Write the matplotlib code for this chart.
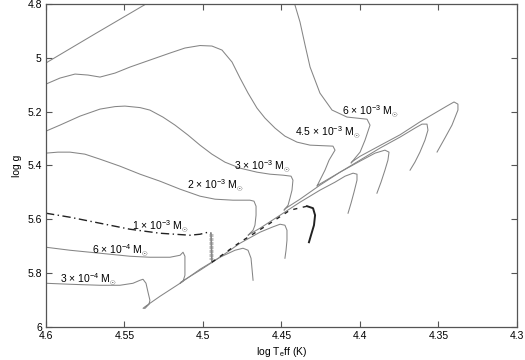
import numpy as np
import matplotlib.pyplot as plt

plt.rcParams['font.family'] = ['Liberation Sans', 'DejaVu Sans']
plt.rcParams['mathtext.fontset'] = 'custom'
plt.rcParams['mathtext.rm'] = 'Liberation Sans'
plt.rcParams['mathtext.it'] = 'Liberation Sans:italic'
plt.rcParams['mathtext.sf'] = 'Liberation Sans'

# evolutionary tracks: log Teff, log g
teff_6e3 = [4.6, 4.5682, 4.5363, 4.50, 4.47, 4.452, 4.444, 4.4414, 4.4382, 4.4350, 4.4318,
            4.4255, 4.4178, 4.4083, 4.3955, 4.3936, 4.3968, 4.3999, 4.4032, 4.4057, 4.4050,
            4.4000, 4.3873, 4.3745, 4.3618, 4.3522, 4.3446, 4.3401, 4.3376, 4.3376, 4.3414,
            4.3459, 4.3509]
logg_6e3 = [5.019, 4.909, 4.800, 4.69, 4.63, 4.64, 4.72, 4.804, 4.867, 4.952, 5.034,
            5.131, 5.194, 5.220, 5.228, 5.250, 5.306, 5.350, 5.373, 5.391, 5.386,
            5.366, 5.326, 5.286, 5.238, 5.205, 5.179, 5.164, 5.172, 5.194, 5.250,
            5.298, 5.350]

teff_45e3 = [4.6, 4.5911, 4.5815, 4.5732, 4.5656, 4.5560, 4.5465, 4.5338, 4.5210, 4.5115,
             4.5019, 4.4943, 4.4879, 4.4815, 4.4764, 4.4713, 4.4656, 4.4605, 4.4541, 4.4478,
             4.4401, 4.4318, 4.4172, 4.4159, 4.4197, 4.4223, 4.4255, 4.4274, 4.4265,
             4.4127, 4.4000, 4.3873, 4.3745, 4.3650, 4.3605, 4.3573, 4.3567, 4.3586,
             4.3618, 4.3650, 4.3681]
logg_45e3 = [5.0975, 5.0752, 5.0603, 5.0640, 5.0715, 5.0566, 5.0343, 5.0083, 4.9822, 4.9636,
             4.9543, 4.9562, 4.9711, 5.0157, 5.0752, 5.1310, 5.1868, 5.2240, 5.2612, 5.2909,
             5.3132, 5.3244, 5.3281, 5.3430, 5.3802, 5.4174, 5.4545, 5.4768, 5.4720,
             5.4248, 5.3802, 5.3355, 5.2946, 5.2612, 5.2463, 5.2463, 5.2686, 5.3058,
             5.3504, 5.3876, 5.4174]

teff_3e3 = [4.6, 4.5911, 4.5783, 4.5656, 4.5560, 4.5497, 4.5401, 4.5338, 4.5255, 4.5178,
            4.5095, 4.5019, 4.4943, 4.4860, 4.4764, 4.4656, 4.4573, 4.4490, 4.4439, 4.4427,
            4.4433, 4.4446, 4.4458, 4.4484, 4.4475, 4.4382, 4.4255, 4.4127, 4.4000, 4.3904,
            4.3841, 4.3815, 4.3822, 4.3841, 4.3866, 4.3892]
logg_3e3 = [5.2723, 5.2500, 5.2165, 5.1905, 5.1812, 5.1793, 5.1849, 5.1942, 5.2202, 5.2500,
            5.2872, 5.3244, 5.3579, 5.3876, 5.4099, 5.4248, 5.4323, 5.4360, 5.4397, 5.4545,
            5.4917, 5.5215, 5.5475, 5.5661, 5.5600, 5.5252, 5.4731, 5.4248, 5.3839, 5.3541,
            5.3430, 5.3504, 5.3802, 5.4174, 5.4620, 5.5029]

teff_2e3 = [4.6, 4.5924, 4.5847, 4.5752, 4.5656, 4.5529, 4.5401, 4.5274, 4.5146, 4.5019,
            4.4923, 4.4809, 4.4701, 4.4675, 4.4662, 4.4662, 4.4669, 4.4681, 4.4713, 4.4700,
            4.4637, 4.4509, 4.4382, 4.4255, 4.4159, 4.4095, 4.4044, 4.4019, 4.4019, 4.4038,
            4.4057, 4.4076]
logg_2e3 = [5.3541, 5.3504, 5.3504, 5.3579, 5.3765, 5.4025, 5.4323, 5.4583, 5.4880, 5.5140,
            5.5252, 5.5289, 5.5289, 5.5326, 5.5512, 5.5847, 5.6219, 5.6405, 5.6591, 5.6540,
            5.6331, 5.5847, 5.5364, 5.4917, 5.4620, 5.4397, 5.4285, 5.4323, 5.4545, 5.4991,
            5.5401, 5.5773]

teff_1e3 = [4.6, 4.5847, 4.5656, 4.5465, 4.5274, 4.5083, 4.5019, 4.4968, 4.4949]
logg_1e3 = [5.5773, 5.5922, 5.6145, 5.6368, 5.6517, 5.6591, 5.6554, 5.6480, 5.6517]
teff_1e3_drop = [4.4949, 4.4946, 4.4943]
logg_1e3_drop = [5.6517, 5.7050, 5.7595]
logg_1e3_hatch = [5.653, 5.658, 5.663, 5.668, 5.673, 5.678, 5.683, 5.688, 5.693, 5.698,
                  5.703, 5.708, 5.713, 5.718, 5.723, 5.728, 5.733, 5.738, 5.743, 5.748]
teff_1e3_dash = [4.4943, 4.4764, 4.4592, 4.4446, 4.4337]
logg_1e3_dash = [5.7595, 5.6851, 5.6219, 5.5661, 5.5512]
teff_1e3_end = [4.4337, 4.4299, 4.4286, 4.4293, 4.4312, 4.4325]
logg_1e3_end = [5.5512, 5.5587, 5.5847, 5.6219, 5.6591, 5.6851]

teff_6e4 = [4.6, 4.5847, 4.5656, 4.5465, 4.5338, 4.5210, 4.5146, 4.5127, 4.5115, 4.5115,
            4.5115, 4.5127, 4.5146, 4.5140, 4.5019, 4.4892, 4.4764, 4.4637, 4.4560, 4.4509,
            4.4478, 4.4465, 4.4465, 4.4471, 4.4478]
logg_6e4 = [5.7037, 5.7149, 5.7260, 5.7372, 5.7409, 5.7409, 5.7335, 5.7223, 5.7372, 5.7707,
            5.8078, 5.8302, 5.8376, 5.8330, 5.7893, 5.7409, 5.6888, 5.6479, 5.6293, 5.6182,
            5.6219, 5.6405, 5.6777, 5.7149, 5.7446]

teff_3e4 = [4.6, 4.5847, 4.5656, 4.5529, 4.5446, 4.5401, 4.5382, 4.5363, 4.5350, 4.5338,
            4.5344, 4.5369, 4.5382, 4.5370, 4.5274, 4.5146, 4.5019, 4.4892, 4.4796, 4.4745,
            4.4713, 4.4694, 4.4688, 4.4681]
logg_3e4 = [5.8376, 5.8413, 5.8450, 5.8450, 5.8376, 5.8264, 5.8227, 5.8376, 5.8711, 5.9008,
            5.9157, 5.9306, 5.9306, 5.9250, 5.8860, 5.8376, 5.7856, 5.7409, 5.7149, 5.7074,
            5.7149, 5.7446, 5.7818, 5.8264]

labels = [r'6 × 10$^{-3}$ M$_{\odot}$', r'4.5 × 10$^{-3}$ M$_{\odot}$',
          r'3 × 10$^{-3}$ M$_{\odot}$', r'2 × 10$^{-3}$ M$_{\odot}$',
          r'1 × 10$^{-3}$ M$_{\odot}$', r'6 × 10$^{-4}$ M$_{\odot}$',
          r'3 × 10$^{-4}$ M$_{\odot}$']
label_teff = [4.3936, 4.4204, 4.4624, 4.4923, 4.5274, 4.5529, 4.5732]
label_logg = [5.202, 5.280, 5.406, 5.477, 5.629, 5.719, 5.826]

xticks = [4.6, 4.55, 4.5, 4.45, 4.4, 4.35, 4.3]
xticklabels = ['4.6', '4.55', '4.5', '4.45', '4.4', '4.35', '4.3']
yticks = [4.8, 5.0, 5.2, 5.4, 5.6, 5.8, 6.0]
yticklabels = ['4.8', '5', '5.2', '5.4', '5.6', '5.8', '6']

fig = plt.figure(figsize=(5.25, 3.6), dpi=100)
ax = fig.add_axes([0.0876, 0.0917, 0.8971, 0.8972])

gray = '#858585'
lw = 0.75
for t, g in [(teff_6e3, logg_6e3), (teff_45e3, logg_45e3), (teff_3e3, logg_3e3),
             (teff_2e3, logg_2e3), (teff_6e4, logg_6e4), (teff_3e4, logg_3e4)]:
    ax.plot(t, g, color=gray, lw=lw)

# 1e-3 track
ax.plot(teff_1e3, logg_1e3, color='#222222', lw=1.0, linestyle=(0, (6, 2.5, 1, 2.5)))
ax.plot(teff_1e3_drop, logg_1e3_drop, color=gray, lw=1.2)
ax.plot(np.full(len(logg_1e3_hatch), teff_1e3_drop[1]), logg_1e3_hatch, linestyle='none',
        marker='_', markersize=3, markeredgewidth=0.4, color='#8a8a8a')
ax.plot(teff_1e3_dash, logg_1e3_dash, color='#222222', lw=1.0, linestyle=(0, (3, 4)))
ax.plot(teff_1e3_end, logg_1e3_end, color='#222222', lw=1.4)

for s, t, g in zip(labels, label_teff, label_logg):
    ax.text(t, g, s, fontsize=7.5, ha='center', va='center')

ax.set_xlim(4.6, 4.3)
ax.set_ylim(6.0, 4.8)
ax.set_xticks(xticks)
ax.set_xticklabels(xticklabels)
ax.set_yticks(yticks)
ax.set_yticklabels(yticklabels)
ax.tick_params(direction='in', top=True, right=True, length=4, width=0.8,
               labelsize=7.5, color='#555555', pad=3)
for sp in ax.spines.values():
    sp.set_color('#555555')
    sp.set_linewidth(0.9)

ax.set_xlabel(r'log T$_\mathrm{e}$ff (K)', fontsize=7.5, labelpad=3)
ax.set_ylabel('log g', fontsize=7.5, labelpad=4)

fig.savefig('out.png', dpi=100)
